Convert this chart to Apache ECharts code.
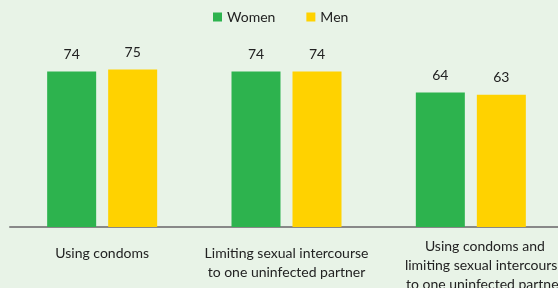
<!DOCTYPE html>
<html>
<head>
<meta charset="utf-8">
<script src="https://cdn.jsdelivr.net/npm/echarts@6/dist/echarts.min.js"></script>
<style>
html,body{margin:0;padding:0;background:#E8F3E7;}
#c{width:558px;height:288px;}
</style>
</head>
<body>
<div id="c"></div>
<script>
const categories = [
  'Using condoms',
  'Limiting sexual intercourse\nto one uninfected partner',
  'Using condoms and\nlimiting sexual intercourse\nto one uninfected partner'
];
const seriesNames = ['Women', 'Men'];
const women = [74, 74, 64];
const men = [75, 74, 63];

const chart = echarts.init(document.getElementById('c'), null, {renderer: 'canvas'});
const font = 'Lato';
const catData = categories.map((c, i) => i === 2
  ? {value: c, textStyle: {padding: [-7, 0, 0, 28]}}
  : c);
const labelCfg = {
  show: true, position: 'top', distance: 10,
  color: '#222', fontFamily: font, fontSize: 14
};
chart.setOption({
  backgroundColor: '#E8F3E7',
  animation: false,
  legend: {
    data: seriesNames,
    left: 208, top: 5,
    itemWidth: 9, itemHeight: 9, itemGap: 31,
    icon: 'rect',
    textStyle: {color: '#222', fontFamily: font, fontSize: 14}
  },
  grid: {left: 10, right: -5, top: 17, bottom: 61, outerBoundsMode: 'none', containLabel: false},
  xAxis: {
    type: 'category',
    data: catData,
    axisLine: {lineStyle: {color: '#888', width: 2}},
    axisTick: {show: false},
    axisLabel: {
      interval: 0, margin: 17, color: '#222', fontFamily: font, fontSize: 14,
      lineHeight: 19, verticalAlign: 'top'
    }
  },
  yAxis: {type: 'value', min: 0, max: 100, show: false, splitLine: {show: false}},
  series: [
    {name: seriesNames[0], type: 'bar', data: women, barWidth: 49, barGap: '24.5%',
     itemStyle: {color: '#2DB34E'}, label: labelCfg},
    {name: seriesNames[1], type: 'bar', data: men, barWidth: 49, barGap: '24.5%',
     itemStyle: {color: '#FFD200'}, label: labelCfg}
  ]
});
</script>
</body>
</html>
